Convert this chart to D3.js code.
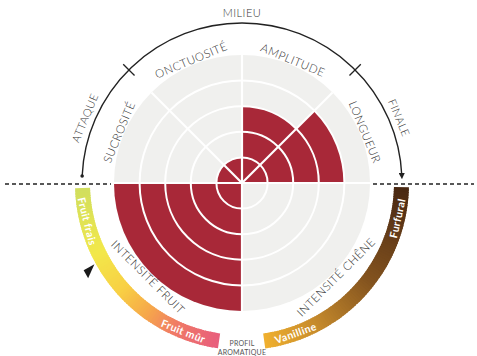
<!DOCTYPE html>
<html>
<head>
<meta charset="utf-8">
<script src="https://cdn.jsdelivr.net/npm/d3@7/dist/d3.min.js"></script>
<style>
  html, body { margin: 0; padding: 0; background: #fff; }
  svg { display: block; }
  text { font-family: Lato, "Open Sans", sans-serif; }
</style>
</head>
<body>
<svg id="chart" width="477" height="356"></svg>
<script>
// Tasting wheel: six criteria, each scored on five rings
const categories = ["SUCROSITÉ", "ONCTUOSITÉ", "AMPLITUDE", "LONGUEUR", "INTENSITÉ CHÊNE", "INTENSITÉ FRUIT"];
const values     = [1, 1, 3, 4, 0, 5];
const ringTicks  = [1, 2, 3, 4, 5];

// Phases of the tasting along the upper arc
const phases = ["ATTAQUE", "MILIEU", "FINALE"];

// Aromatic scales drawn as gradient bands
const fruitScale = ["Fruit frais", "Fruit mûr"];
const oakScale   = ["Furfural", "Vanilline"];
const fruitMarker = 0.35;          // position on the fruit scale (0 = frais, 1 = mûr)
const centerLabel = ["PROFIL", "AROMATIQUE"];

// ---- layout ----
const W = 477, H = 356;
const cx = 242, cy = 183;
const R = 128;
const sectorSpan = [45, 45, 45, 45, 90, 90];   // degrees, clockwise from -90
const rad = d => d * Math.PI / 180;

const svg = d3.select("#chart");
const g = svg.append("g").attr("transform", `translate(${cx},${cy})`);

const r = d3.scaleLinear().domain([0, d3.max(ringTicks)]).range([0, R]);

// sector angles
let acc = -90;
const sectors = categories.map((c, i) => {
  const s = acc; acc += sectorSpan[i];
  return { name: c, value: values[i], a0: s, a1: acc, mid: (s + acc) / 2 };
});

const arc = d3.arc();

// background disc
g.append("circle").attr("r", R).attr("fill", "#f0f0ee");

// value sectors
g.selectAll("path.val").data(sectors).join("path")
  .attr("class", "val")
  .attr("fill", "#a82838")
  .attr("d", d => arc({ innerRadius: 0, outerRadius: r(d.value), startAngle: rad(d.a0), endAngle: rad(d.a1) }));

// ring circles
g.selectAll("circle.ring").data(ringTicks.slice(0, -1)).join("circle")
  .attr("class", "ring")
  .attr("r", d => r(d))
  .attr("fill", "none").attr("stroke", "#fff").attr("stroke-width", 2);

// sector borders
const borders = Array.from(new Set(sectors.flatMap(d => [d.a0, d.a1]).map(a => ((a % 360) + 360) % 360)));
g.selectAll("line.spoke").data(borders).join("line")
  .attr("class", "spoke")
  .attr("x1", 0).attr("y1", 0)
  .attr("x2", a => R * Math.sin(rad(a)))
  .attr("y2", a => -R * Math.cos(rad(a)))
  .attr("stroke", "#fff").attr("stroke-width", 2.2);

// helper: text placed tangentially at an angle and radius
function polarText(sel, a, radius, upper) {
  const x = radius * Math.sin(rad(a)), y = -radius * Math.cos(rad(a));
  const rot = upper ? a : a - 180;
  return sel.attr("transform", `translate(${x},${y}) rotate(${rot})`)
    .attr("text-anchor", "middle").attr("dy", "0.36em");
}

// category labels
sectors.forEach(d => {
  const upper = d.mid < 90 && d.mid > -90;
  const t = g.append("text").text(d.name)
    .attr("font-size", 11.5).attr("font-weight", 300).attr("fill", "#333").attr("letter-spacing", 0.5);
  polarText(t, d.mid, 133, upper);
});

// phase arc across the top
const arcR = 160;
const phaseA0 = -87.5, phaseA1 = 87.5;
svg.append("defs").append("marker")
  .attr("id", "arrow").attr("viewBox", "0 0 10 10")
  .attr("refX", 5).attr("refY", 5)
  .attr("markerWidth", 4.5).attr("markerHeight", 4.5)
  .attr("orient", "auto")
  .append("path").attr("d", "M0,0 L10,5 L0,10 Z").attr("fill", "#222");

const phasePath = d3.path();
phasePath.arc(0, 0, arcR, rad(phaseA0 - 90), rad(phaseA1 - 90));
g.append("path").attr("d", phasePath.toString())
  .attr("fill", "none").attr("stroke", "#222").attr("stroke-width", 1.4)
  .attr("marker-end", "url(#arrow)");
g.append("circle")
  .attr("cx", arcR * Math.sin(rad(phaseA0))).attr("cy", -arcR * Math.cos(rad(phaseA0)))
  .attr("r", 1.8).attr("fill", "#222");

// phase separators
const phaseSplits = [-45, 45];
g.selectAll("line.tick").data(phaseSplits).join("line")
  .attr("x1", a => 152 * Math.sin(rad(a))).attr("y1", a => -152 * Math.cos(rad(a)))
  .attr("x2", a => 168 * Math.sin(rad(a))).attr("y2", a => -168 * Math.cos(rad(a)))
  .attr("stroke", "#222").attr("stroke-width", 1.3);

// phase labels
const phaseAngles = d3.scalePoint().domain(phases).range([-67.5, 67.5]);
phases.forEach(p => {
  const t = g.append("text").text(p)
    .attr("font-size", 11).attr("font-weight", 300).attr("fill", "#333").attr("letter-spacing", 0.5);
  polarText(t, phaseAngles(p), 170, true);
});

// dashed horizon
const dash = [[5 - cx, 111 - cx], [373 - cx, 474 - cx]];
g.selectAll("line.dash").data(dash).join("line")
  .attr("x1", d => d[0]).attr("x2", d => d[1])
  .attr("y1", 1).attr("y2", 1)
  .attr("stroke", "#222").attr("stroke-width", 1.3).attr("stroke-dasharray", "4,3");

// gradient bands
const bandIn = 152, bandOut = 167;
function band(a0, a1, stops, colors, labels, labelAt) {
  const col = d3.scaleLinear().domain(stops).range(colors).interpolate(d3.interpolateRgb);
  const n = 90;
  const pieces = d3.range(n).map(i => i / n);
  g.append("g").selectAll("path").data(pieces).join("path")
    .attr("fill", t => col(t + 0.5 / n))
    .attr("d", t => {
      const s = a0 + (a1 - a0) * t, e = a0 + (a1 - a0) * (t + 1 / n);
      const lo = Math.min(s, e), hi = Math.max(s, e);
      return arc({ innerRadius: bandIn, outerRadius: bandOut,
        startAngle: rad(lo) - (t > 0 ? 0.004 : 0), endAngle: rad(hi) + (t < 1 - 1 / n ? 0.004 : 0) });
    });
  labels.forEach((lab, i) => {
    const a = a0 + (a1 - a0) * labelAt[i];
    const t = g.append("text").text(lab)
      .attr("font-size", 10.5).attr("font-weight", 700).attr("fill", "#fff").attr("letter-spacing", 0.4);
    polarText(t, a, (bandIn + bandOut) / 2, false);
  });
  return a => a0 + (a1 - a0) * a;
}

const fruitAngle = band(268, 188.5,
  [0, 0.3, 0.5, 0.65, 0.8, 1],
  ["#d0de5e", "#f2e84a", "#f8d044", "#f6a94a", "#f07a66", "#e85e7c"],
  fruitScale, [0.15, 0.835]);

band(91.5, 172,
  [0, 0.45, 0.75, 1],
  ["#482712", "#83531f", "#c4892c", "#f0b02f"],
  oakScale, [0.14, 0.855]);

// marker on the fruit scale
const ma = fruitAngle(fruitMarker);
g.append("path")
  .attr("transform", `rotate(${ma}) translate(0,${-176})`)
  .attr("d", "M-6,-4.8 L3,-4.8 L3,7.6 Z")
  .attr("fill", "#1a1a1a");

// centre caption
g.append("text").selectAll("tspan").data(centerLabel).join("tspan")
  .attr("x", 0).attr("y", (d, i) => 163 + i * 9)
  .attr("text-anchor", "middle")
  .attr("font-size", 7).attr("fill", "#555").attr("letter-spacing", 0.2)
  .text(d => d);
</script>
</body>
</html>
